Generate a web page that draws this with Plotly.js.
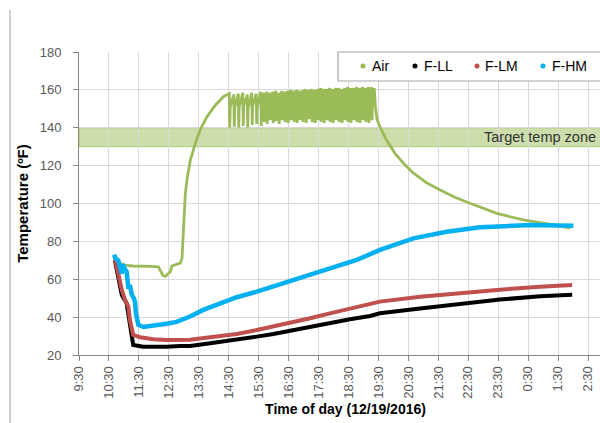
<!DOCTYPE html>
<html><head><meta charset="utf-8">
<script src="https://cdn.plot.ly/plotly-3.0.1.min.js"></script>
<style>html,body{margin:0;padding:0;overflow:hidden;background:#fff;width:600px;height:423px}</style>
</head><body><div id="chart" style="width:612px;height:423px"></div>
<script>
// hours of day (24+ = after midnight)
const tickVals = [9.5,10.5,11.5,12.5,13.5,14.5,15.5,16.5,17.5,18.5,19.5,20.5,21.5,22.5,23.5,24.5,25.5,26.5];
const tickText = ['9:30','10:30','11:30','12:30','13:30','14:30','15:30','16:30','17:30','18:30','19:30','20:30','21:30','22:30','23:30','0:30','1:30','2:30'];

const airX = [10.70,10.78,10.87,11.00,11.30,11.60,11.90,12.15,12.22,12.30,12.38,12.48,12.55,12.60,12.75,12.88,12.94,12.97,13.00,13.05,13.11,13.22,13.39,13.55,13.78,14.06,14.33,14.50,
14.52,14.535,14.55, 14.67,14.685,14.70, 14.82,14.835,14.85, 14.97,14.985,15.00, 15.12,15.135,15.15, 15.27,15.285,15.30, 15.42,15.435,15.45, 15.57,15.585,15.60,
15.67,15.685,15.71, 15.77,15.785,15.81, 15.87,15.885,15.91, 15.97,15.985,16.01, 16.07,16.085,16.11, 16.17,16.185,16.21, 16.27,16.285,16.31, 16.37,16.385,16.41,
16.47,16.485,16.51, 16.57,16.585,16.61, 16.67,16.685,16.71, 16.77,16.785,16.81, 16.87,16.885,16.91, 16.97,16.985,17.01, 17.07,17.085,17.11, 17.17,17.185,17.21,
17.27,17.285,17.31, 17.37,17.385,17.41, 17.47,17.485,17.51, 17.57,17.585,17.61, 17.67,17.685,17.71, 17.77,17.785,17.81, 17.87,17.885,17.91, 17.97,17.985,18.01,
18.07,18.085,18.11, 18.17,18.185,18.21, 18.27,18.285,18.31, 18.37,18.385,18.41, 18.47,18.485,18.51, 18.57,18.585,18.61, 18.67,18.685,18.71, 18.77,18.785,18.81,
18.87,18.885,18.91, 18.97,18.985,19.01, 19.07,19.085,19.11, 19.17,19.185,19.21, 19.27,19.285,19.31,
19.36,19.40,19.45,19.55,19.77,20.05,20.35,20.67,21.10,21.56,22.05,22.56,23.00,23.45,23.90,24.34,24.75,25.12,25.50,25.90];
const airY = [72.5,70,68.5,67.5,67,67,66.8,66.5,64.5,62,61.5,63,64,67,68,68.5,71,80,95,105,113,123,132,139,146,152,156.5,158,
158,140,151, 157.5,140.5,150.5, 158,140,151, 158.5,141,151.5, 157.5,140,150.5, 158.5,141.5,151.5, 158,142,151, 159,141,152,
158.5,143,152.5, 159,142,153, 158.5,144,152.5, 159,142.5,153, 159.5,143.5,153.5, 158.5,142,152.5, 159.5,144,153.5, 159,143,153,
159.5,142.5,153.5, 160,144,154, 159.5,143,153.5, 160,142.5,154, 159.5,144,153.5, 160,143,154, 160.5,142.5,154.5, 160,144.5,154,
160.5,143,154.5, 160,142.5,154, 160.5,144,154.5, 161,143,155, 160.5,142.5,154.5, 160.5,144,154.5, 161,143,155, 160.5,142.5,154.5,
161,144,155, 161,143,155, 160.5,142.5,154.5, 161,144,155, 161.5,143,155.5, 161,142.5,155, 161,144,155, 161.5,143,155.5,
161,142.5,155, 161.5,144,155.5, 161,143,155, 161.5,142.5,155.5, 161.5,144,155.5,
161,151,144.5,140.5,133.5,126.5,121,116,111,107.1,103.3,100.1,97.3,94.8,93,91.3,90.3,89.5,88.3,87];

const llX = [10.70,10.80,10.93,11.09,11.20,11.26,11.31,11.65,12.10,12.43,12.87,13.21,13.88,14.77,15.44,15.99,16.55,17.22,17.88,18.55,19.22,19.55,20.89,22.23,23.56,24.90,25.97];
const llY = [70,62,51.7,47.3,35,27.9,25.3,24.4,24.1,24.4,24.8,24.8,26.2,27.9,29.7,31.1,32.9,35,36.8,38.9,40.6,42,44.5,47,49.3,51,51.8];

const lmX = [10.70,10.76,10.80,10.87,10.93,11.04,11.15,11.20,11.26,11.31,11.54,11.98,12.43,12.87,13.21,13.88,14.77,15.44,15.99,16.55,17.22,17.88,18.55,19.22,19.55,20.89,22.23,23.56,24.90,25.97];
const lmY = [71,66,64,59.6,54.3,49,45.5,38.5,33.2,30.6,29.4,28.3,27.9,28.2,28,29.4,31.1,33.2,35,36.8,39.4,42,44.7,47.3,48.2,50.8,52.8,54.5,56,57];

const hmX = [10.67,10.72,10.81,10.86,10.93,10.97,11.00,11.09,11.12,11.15,11.20,11.26,11.33,11.37,11.40,11.43,11.48,11.65,11.98,12.43,12.76,13.10,13.21,13.65,14.21,14.77,15.44,16.10,16.99,17.88,18.78,19.55,20.67,21.78,22.89,24.56,25.50,26.01];
const hmY = [73,71,70,66,63,68,66,64,58,55,57,52,50,48,42,39,36,34.8,35.3,36.5,37.5,39.3,40.3,43.8,47.3,50.5,53.5,57,61.3,65.8,70.2,75.5,81.6,85.1,87.4,88.7,88.8,88.3];

const seriesNames = ['Air','F-LL','F-LM','F-HM'];
const seriesColors = ['#9BBB59','#000000','#C0504D','#00B0F0'];
const zoneLow = 130, zoneHigh = 140;

const font = 'Arial, "Liberation Sans", sans-serif';
const lines = [[airX,airY,2.8],[llX,llY,4],[lmX,lmY,4],[hmX,hmY,4.5]].map((s,i)=>({
  x:s[0], y:s[1], type:'scatter', mode:'lines', name:seriesNames[i],
  line:{color:seriesColors[i], width:s[2]}, showlegend:false, hoverinfo:'skip'
}));

// legend (drawn as a boxed key, partly cut by the right edge as in the source)
const keyDotX = [0.5328,0.6304,0.7467,0.8705];
const keyTextX = [0.5478,0.6454,0.7598,0.8855];
const keyY = 0.9538;
const shapes = [
  {type:'rect', xref:'paper', yref:'y', x0:0, x1:1, y0:zoneLow, y1:zoneHigh,
   fillcolor:'rgba(155,187,89,0.5)', line:{color:'rgba(155,187,89,0.7)', width:1}, layer:'below'},
  {type:'line', xref:'paper', yref:'paper', x0:-0.1295, x1:-0.1295, y0:1.1386, y1:-0.23,
   line:{color:'#bfbfbf', width:1.5}},
  {type:'rect', xref:'paper', yref:'paper', x0:0.4859, x1:1.06, y0:0.9043, y1:1.0,
   fillcolor:'#fff', line:{color:'#a6a6a6', width:1.2}}
];
seriesColors.forEach((c,i)=>shapes.push({type:'circle', xref:'paper', yref:'paper',
  x0:keyDotX[i]-0.0047, x1:keyDotX[i]+0.0047, y0:keyY-0.0083, y1:keyY+0.0083,
  fillcolor:c, line:{width:0}}));
const annotations = [
  {text:'Target temp zone', x:26.83, y:(zoneLow+zoneHigh)/2, xref:'x', yref:'y',
   xanchor:'right', yanchor:'middle', showarrow:false, font:{size:14.5, color:'#333'}}
];
seriesNames.forEach((n,i)=>annotations.push({text:n, x:keyTextX[i], y:keyY, xref:'paper', yref:'paper',
  xanchor:'left', yanchor:'middle', showarrow:false, borderpad:0, font:{size:14, color:'#000'}}));

const layout = {
  width:612, height:423,
  margin:{l:79, r:0, t:52, b:68, autoexpand:false},
  paper_bgcolor:'#fff', plot_bgcolor:'#fff', showlegend:false,
  font:{family:font, color:'#595959', size:13},
  xaxis:{range:[9.5,27.3], tickvals:tickVals, ticktext:tickText, tickangle:-90,
    showgrid:true, gridcolor:'#d9d9d9', gridwidth:1, zeroline:false,
    showline:true, linecolor:'#868686', linewidth:1, ticks:'outside', ticklen:5, tickcolor:'#868686',
    tickfont:{size:13, color:'#595959'},
    title:{text:'<b>Time of day (12/19/2016)</b>', font:{size:14, color:'#000'}, standoff:6}},
  yaxis:{range:[20,180], dtick:20, tick0:20,
    showgrid:true, gridcolor:'#d9d9d9', gridwidth:1, zeroline:false,
    showline:true, linecolor:'#868686', linewidth:1, ticks:'outside', ticklen:5, tickcolor:'#868686',
    tickfont:{size:13, color:'#595959'}, ticklabelstandoff:9,
    title:{text:'<b>Temperature (ºF)</b>', font:{size:15, color:'#000'}, standoff:7}},
  shapes:shapes,
  annotations:annotations
};
Plotly.newPlot('chart', lines, layout, {displayModeBar:false, staticPlot:true});
</script>
</body></html>
